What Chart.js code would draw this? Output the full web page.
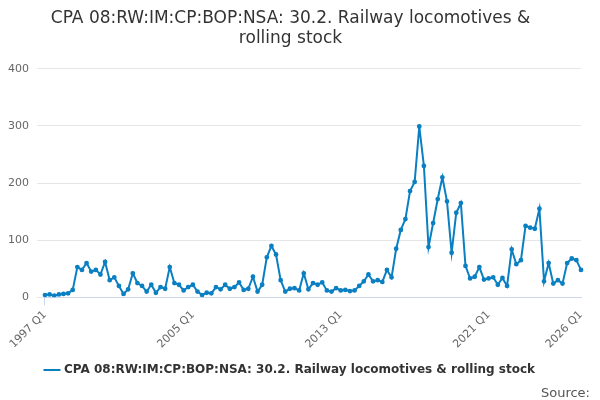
<!DOCTYPE html>
<html><head><meta charset="utf-8">
<script src="https://cdn.jsdelivr.net/npm/chart.js@4"></script>
<style>body{margin:0;background:#fff}#wrap{width:600px;height:400px}</style>
</head><body><div id="wrap"><canvas id="c"></canvas></div>
<script>
const startYear = 1997;
const endYear = 2026;
const shownYears = [1997, 2005, 2013, 2021, 2026];
const values = [
  4,5,3,5, 6,7,13,53, 48,60,45,48, 40,62,30,35, 20,6,14,42, 25,20,10,22,
  8,18,15,53, 25,22,12,18, 22,10,4,8, 7,18,14,22, 15,18,26,13, 15,36,10,22,
  70,90,75,30, 10,15,16,12, 42,14,25,22, 26,12,10,16, 12,13,11,12, 20,28,40,28,
  30,27,48,35, 85,118,137,186, 202,299,230,88, 130,172,210,168, 78,148,165,55,
  33,36,53,31, 33,35,22,34, 20,84,58,65, 125,122,120,155, 28,60,24,30, 24,60,68,65,
  48
];
const labels = [];
for (let y = startYear; y <= endYear; y++) {
  for (let q = 1; q <= 4; q++) {
    if (labels.length < values.length) labels.push(y + ' Q' + q);
  }
}
const seriesName = 'CPA 08:RW:IM:CP:BOP:NSA: 30.2. Railway locomotives & rolling stock';
const font = "'DejaVu Sans', sans-serif";

const sourcePlugin = {
  id: 'source',
  afterDraw(chart) {
    const c = chart.ctx;
    c.save();
    c.font = '13px ' + font;
    c.fillStyle = '#555';
    c.textAlign = 'right';
    c.fillText('Source:', 590, 394);
    c.restore();
  }
};

new Chart(document.getElementById('c'), {
  type: 'line',
  data: {
    labels: labels,
    datasets: [{
      label: seriesName,
      data: values,
      borderColor: '#0a7fc2',
      backgroundColor: '#0a7fc2',
      borderWidth: 2,
      pointRadius: 1.4,
      pointHoverRadius: 3,
      tension: 0
    }]
  },
  options: {
    responsive: true,
    maintainAspectRatio: false,
    animation: false,
    layout: { padding: { left: 0, right: 19, bottom: 14 } },
    plugins: {
      title: {
        display: true,
        text: ['CPA 08:RW:IM:CP:BOP:NSA: 30.2. Railway locomotives &', 'rolling stock'],
        font: { family: font, size: 17, weight: 'normal' },
        color: '#333',
        padding: { top: 8, bottom: 20 }
      },
      legend: {
        position: 'bottom',
        labels: {
          font: { family: font, size: 12, weight: 'bold' },
          color: '#333',
          usePointStyle: true,
          pointStyle: 'line',
          boxWidth: 20
        }
      },
      tooltip: { enabled: false }
    },
    scales: {
      x: {
        grid: {
          drawOnChartArea: false,
          color: ctx => (ctx.index % 16 === 0 || ctx.index === values.length - 1) ? '#ccd6eb' : 'transparent',
          tickLength: 8
        },
        border: { color: '#ccd6eb' },
        ticks: {
          autoSkip: false,
          maxRotation: 45,
          minRotation: 45,
          font: { family: font, size: 11 },
          color: '#666',
          callback: function (v, i) {
            const l = labels[i];
            const y = parseInt(l);
            return (l.endsWith('Q1') && shownYears.includes(y)) ? l : null;
          }
        }
      },
      y: {
        min: 0,
        max: 400,
        ticks: { stepSize: 100, font: { family: font, size: 11 }, color: '#666', padding: 8 },
        grid: { color: '#e6e6e6' },
        border: { display: false }
      }
    }
  },
  plugins: [sourcePlugin]
});
</script></body></html>
